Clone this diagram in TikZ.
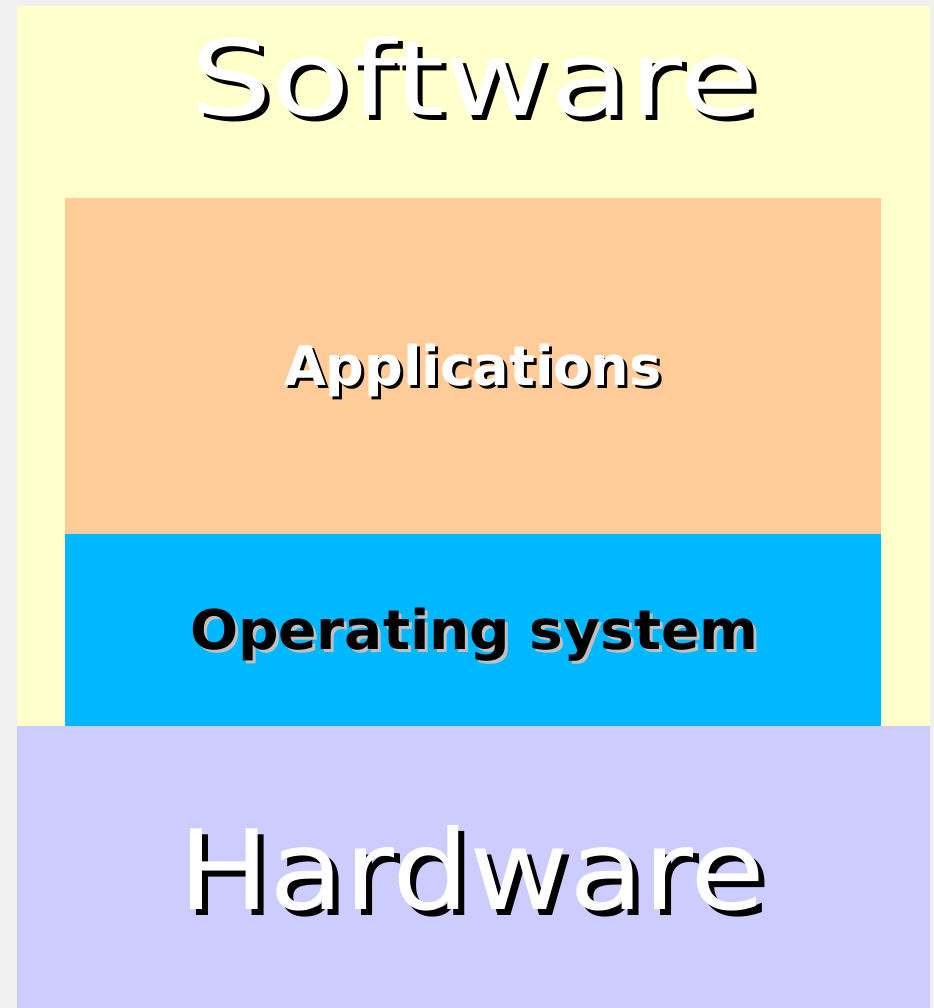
\documentclass[tikz,border=0pt]{standalone}
\usepackage{fontspec}
\setmainfont{DejaVu Sans}
\definecolor{bggray}{HTML}{F0F0F0}
\definecolor{swyellow}{HTML}{FFFFCC}
\definecolor{apporange}{HTML}{FFCC99}
\definecolor{osblue}{HTML}{00B8FF}
\definecolor{hwlav}{HTML}{CCCCFF}
\definecolor{shgray}{HTML}{C0C0C0}
\begin{document}
\begin{tikzpicture}[x=0.75pt,y=-0.75pt,
  lbl/.style={inner sep=0pt, outer sep=0pt, anchor=base west},
  bigfont/.style={font=\fontsize{78pt}{80pt}\selectfont},
  hwfont/.style={font=\fontsize{83pt}{85pt}\selectfont},
  midfont/.style={font=\fontsize{41pt}{43pt}\selectfont\bfseries}]
\fill[bggray] (0,0) rectangle (934,1008);
\useasboundingbox (0,0) rectangle (934,1008);
\fill[swyellow] (17,6) rectangle (930,726);
\fill[apporange] (65,198) rectangle (881,534);
\fill[osblue] (65,534) rectangle (881,726);
\fill[hwlav] (17,726) rectangle (930,1008);
% Software
\node[lbl, bigfont, text=black] (swsh) at (195,120) {\scalebox{1.24}[1]{Software}};
\node[lbl, bigfont, text=white] (sw) at (190,115) {\scalebox{1.24}[1]{Software}};
% Applications
\node[lbl, midfont, text=black] (appsh) at (287,388) {\scalebox{0.99}[1]{Applications}};
\node[lbl, midfont, text=white] (app) at (284,385) {\scalebox{0.99}[1]{Applications}};
% Operating system
\node[lbl, midfont, text=shgray] (ossh) at (193,652) {\scalebox{1.035}[1]{Operating system}};
\node[lbl, midfont, text=black] (os) at (190,649) {\scalebox{1.035}[1]{Operating system}};
% Hardware
\node[lbl, hwfont, text=black] (hwsh) at (184,915) {\scalebox{1.1}[1]{Hardware}};
\node[lbl, hwfont, text=white] (hw) at (178,909) {\scalebox{1.1}[1]{Hardware}};
\end{tikzpicture}
\end{document}
